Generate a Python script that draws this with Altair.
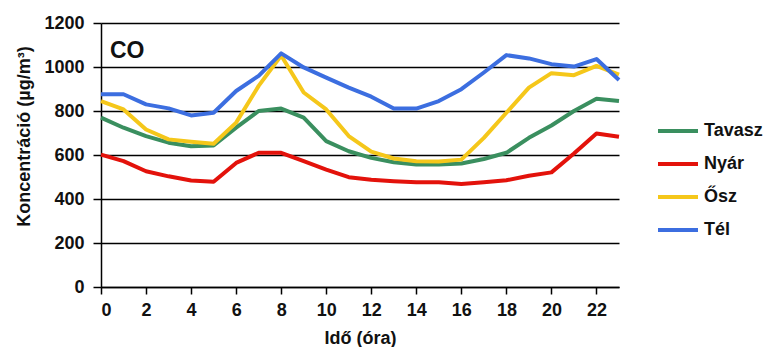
import altair as alt
import pandas as pd

hours = list(range(24))
series_names = ["Tavasz", "Nyár", "Ősz", "Tél"]
series_colors = ["#3a8f5f", "#e3120b", "#f5c71a", "#3c6ee0"]

tavasz = [770, 724, 686, 656, 640, 643, 724, 800, 811, 770, 663, 617,
          587, 567, 557, 557, 561, 582, 610, 678, 734, 800, 856, 845]
nyar = [602, 572, 526, 503, 484, 478, 564, 610, 610, 572, 534, 499,
        488, 481, 476, 476, 468, 476, 485, 506, 521, 607, 698, 683]
osz = [845, 807, 716, 671, 660, 651, 747, 914, 1052, 884, 807, 686,
       615, 584, 572, 570, 579, 678, 792, 906, 972, 963, 1005, 965]
tel = [876, 876, 830, 812, 780, 792, 891, 960, 1062, 998, 952, 906,
       865, 811, 811, 845, 899, 975, 1054, 1039, 1013, 1002, 1036, 941]

y_ticks = [0, 200, 400, 600, 800, 1000, 1200]
label_text = ["CO"]

rows = []
for name, vals in zip(series_names, [tavasz, nyar, osz, tel]):
    for h, v in zip(hours, vals):
        rows.append({"hour": h, "value": v, "season": name})
df = pd.DataFrame(rows)

FONT = "Liberation Sans"

lines = alt.Chart(df).mark_line(strokeWidth=4, strokeJoin="round").encode(
    x=alt.X("hour:Q",
            scale=alt.Scale(domain=[0, 23], nice=False, zero=False),
            axis=alt.Axis(values=hours, labelExpr="datum.value % 2 == 0 ? datum.label : ''",
                          title="Idő (óra)", grid=False, tickSize=7, labelPadding=7,
                          titleY=56, titleBaseline="alphabetic")),
    y=alt.Y("value:Q",
            scale=alt.Scale(domain=[0, 1200], nice=False),
            axis=alt.Axis(values=y_ticks, format="d", title="Koncentráció (µg/m³)", grid=True,
                          tickSize=8, labelPadding=9, titleX=-77, titleY=113,
                          titleBaseline="middle", titleAngle=-90)),
    color=alt.Color("season:N",
                    scale=alt.Scale(domain=series_names, range=series_colors),
                    legend=alt.Legend(title=None, orient="none", legendX=555, legendY=86,
                                      symbolType="stroke", symbolSize=1600,
                                      symbolStrokeWidth=4, rowPadding=2,
                                      labelFontSize=18, labelFont=FONT,
                                      labelFontWeight="bold", labelColor="#111",
                                      labelOffset=4)),
    order="hour:Q",
)

co_label = alt.Chart(pd.DataFrame({"label": label_text})).mark_text(
    align="left", baseline="alphabetic", dx=9, dy=35,
    font=FONT, fontSize=23, fontWeight="bold", color="#111",
).encode(
    x=alt.datum(0),
    y=alt.datum(1200),
    text="label:N",
)

chart = alt.layer(lines, co_label).properties(
    width=518,
    height=264,
    autosize=alt.AutoSizeParams(type="none"),
    padding={"left": 93, "top": 15, "right": 147, "bottom": 60},
).configure_axis(
    domainColor="#000", domainWidth=1.5, tickColor="#000", tickWidth=1.5,
    gridColor="#000", gridWidth=1.5, gridOpacity=1,
    labelFont=FONT, labelFontSize=18, labelFontWeight="bold", labelColor="#111",
    titleFont=FONT, titleFontSize=18, titleFontWeight="bold", titleColor="#111",
).configure_view(stroke=None)

chart.save("out.html", embed_options={"renderer": "svg", "actions": False})
